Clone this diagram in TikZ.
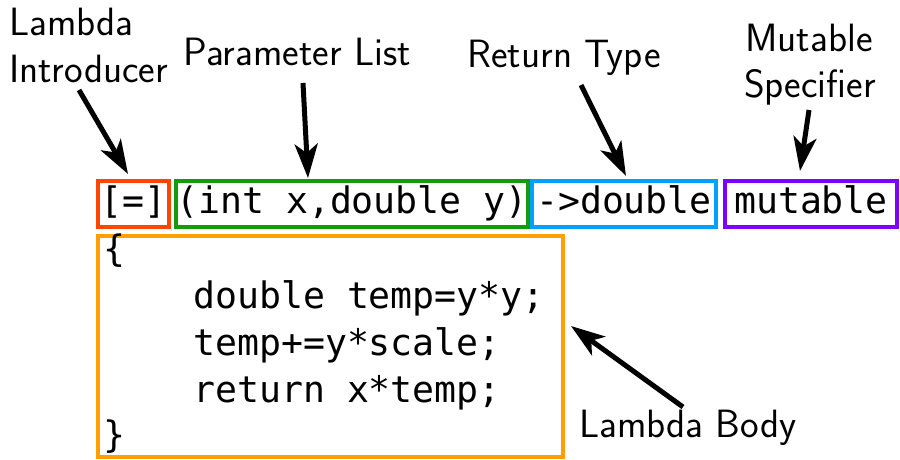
\documentclass[tikz,border=0pt]{standalone}
\usepackage{fontspec}
\setmonofont{DejaVu Sans Mono}
\usetikzlibrary{arrows.meta}
\definecolor{cred}{RGB}{255,69,0}
\definecolor{cgreen}{RGB}{20,155,10}
\definecolor{cblue}{RGB}{0,160,255}
\definecolor{cpurple}{RGB}{125,0,255}
\definecolor{corange}{RGB}{255,160,0}
\begin{document}
\begin{tikzpicture}[x=1pt,y=-1pt,
  codebox/.style={draw=#1,line width=4pt,inner sep=0pt,minimum height=46pt,
    text height=27pt,text depth=9pt,font=\ttfamily\fontsize{36.5}{44}\selectfont},
  codeline/.style={anchor=base west,inner sep=0pt,font=\ttfamily\fontsize{36.5}{44}\selectfont},
  lbl/.style={inner sep=0pt,font=\sffamily\fontsize{39.5}{48}\selectfont},
  arr/.style={line width=5pt,-{Stealth[length=34pt,width=23pt,inset=9pt]}}]
\useasboundingbox (0,0) rectangle (900,459);
% boxes
\node[codebox=cred,minimum width=71pt] (intro) at (133.5,204) {[=]};
\node[codebox=cgreen,minimum width=348pt] (params) at (352,204) {(int x,double y)};
\node[codebox=cblue,minimum width=184pt] (ret) at (624,204) {->double};
\node[codebox=cpurple,minimum width=172pt] (mut) at (811,204) {mutable};
\node[draw=corange,line width=4pt,minimum width=465pt,minimum height=221pt,inner sep=0pt] (body) at (330.5,346.5) {};
% code body
\node[codeline] (l0) at (103,261) {\{};
\node[codeline] (l1) at (193,308) {double temp=y*y;};
\node[codeline] (l2) at (193,355) {temp+=y*scale;};
\node[codeline] (l3) at (193,402) {return x*temp;};
\node[codeline] (l4) at (103,447) {\}};
% labels
\node[lbl,anchor=base west] (lamA) at (9,35) {Lambda};
\node[lbl,anchor=base west] (lamB) at (9,82) {Introducer};
\node[lbl,anchor=base] (plist) at (297,65) {Parameter List};
\node[lbl,anchor=base] (rtype) at (564,67) {Return Type};
\node[lbl,anchor=base] (mutA) at (809,51) {Mutable};
\node[lbl,anchor=base] (mutB) at (810,97) {Specifier};
\node[lbl,anchor=base west] (lbody) at (579,437) {Lambda Body};
% arrows
\coordinate (s1) at (79,90);   \coordinate (t1) at (128,174);
\coordinate (s2) at (303,83);  \coordinate (t2) at (308,178);
\coordinate (s3) at (581,85);  \coordinate (t3) at (626,176);
\coordinate (s4) at (809,110); \coordinate (t4) at (800,171);
\coordinate (s5) at (683,407); \coordinate (t5) at (571,326);
\draw[arr] (s1) -- (t1);
\draw[arr] (s2) -- (t2);
\draw[arr] (s3) -- (t3);
\draw[arr] (s4) -- (t4);
\draw[arr] (s5) -- (t5);
\end{tikzpicture}
\end{document}
